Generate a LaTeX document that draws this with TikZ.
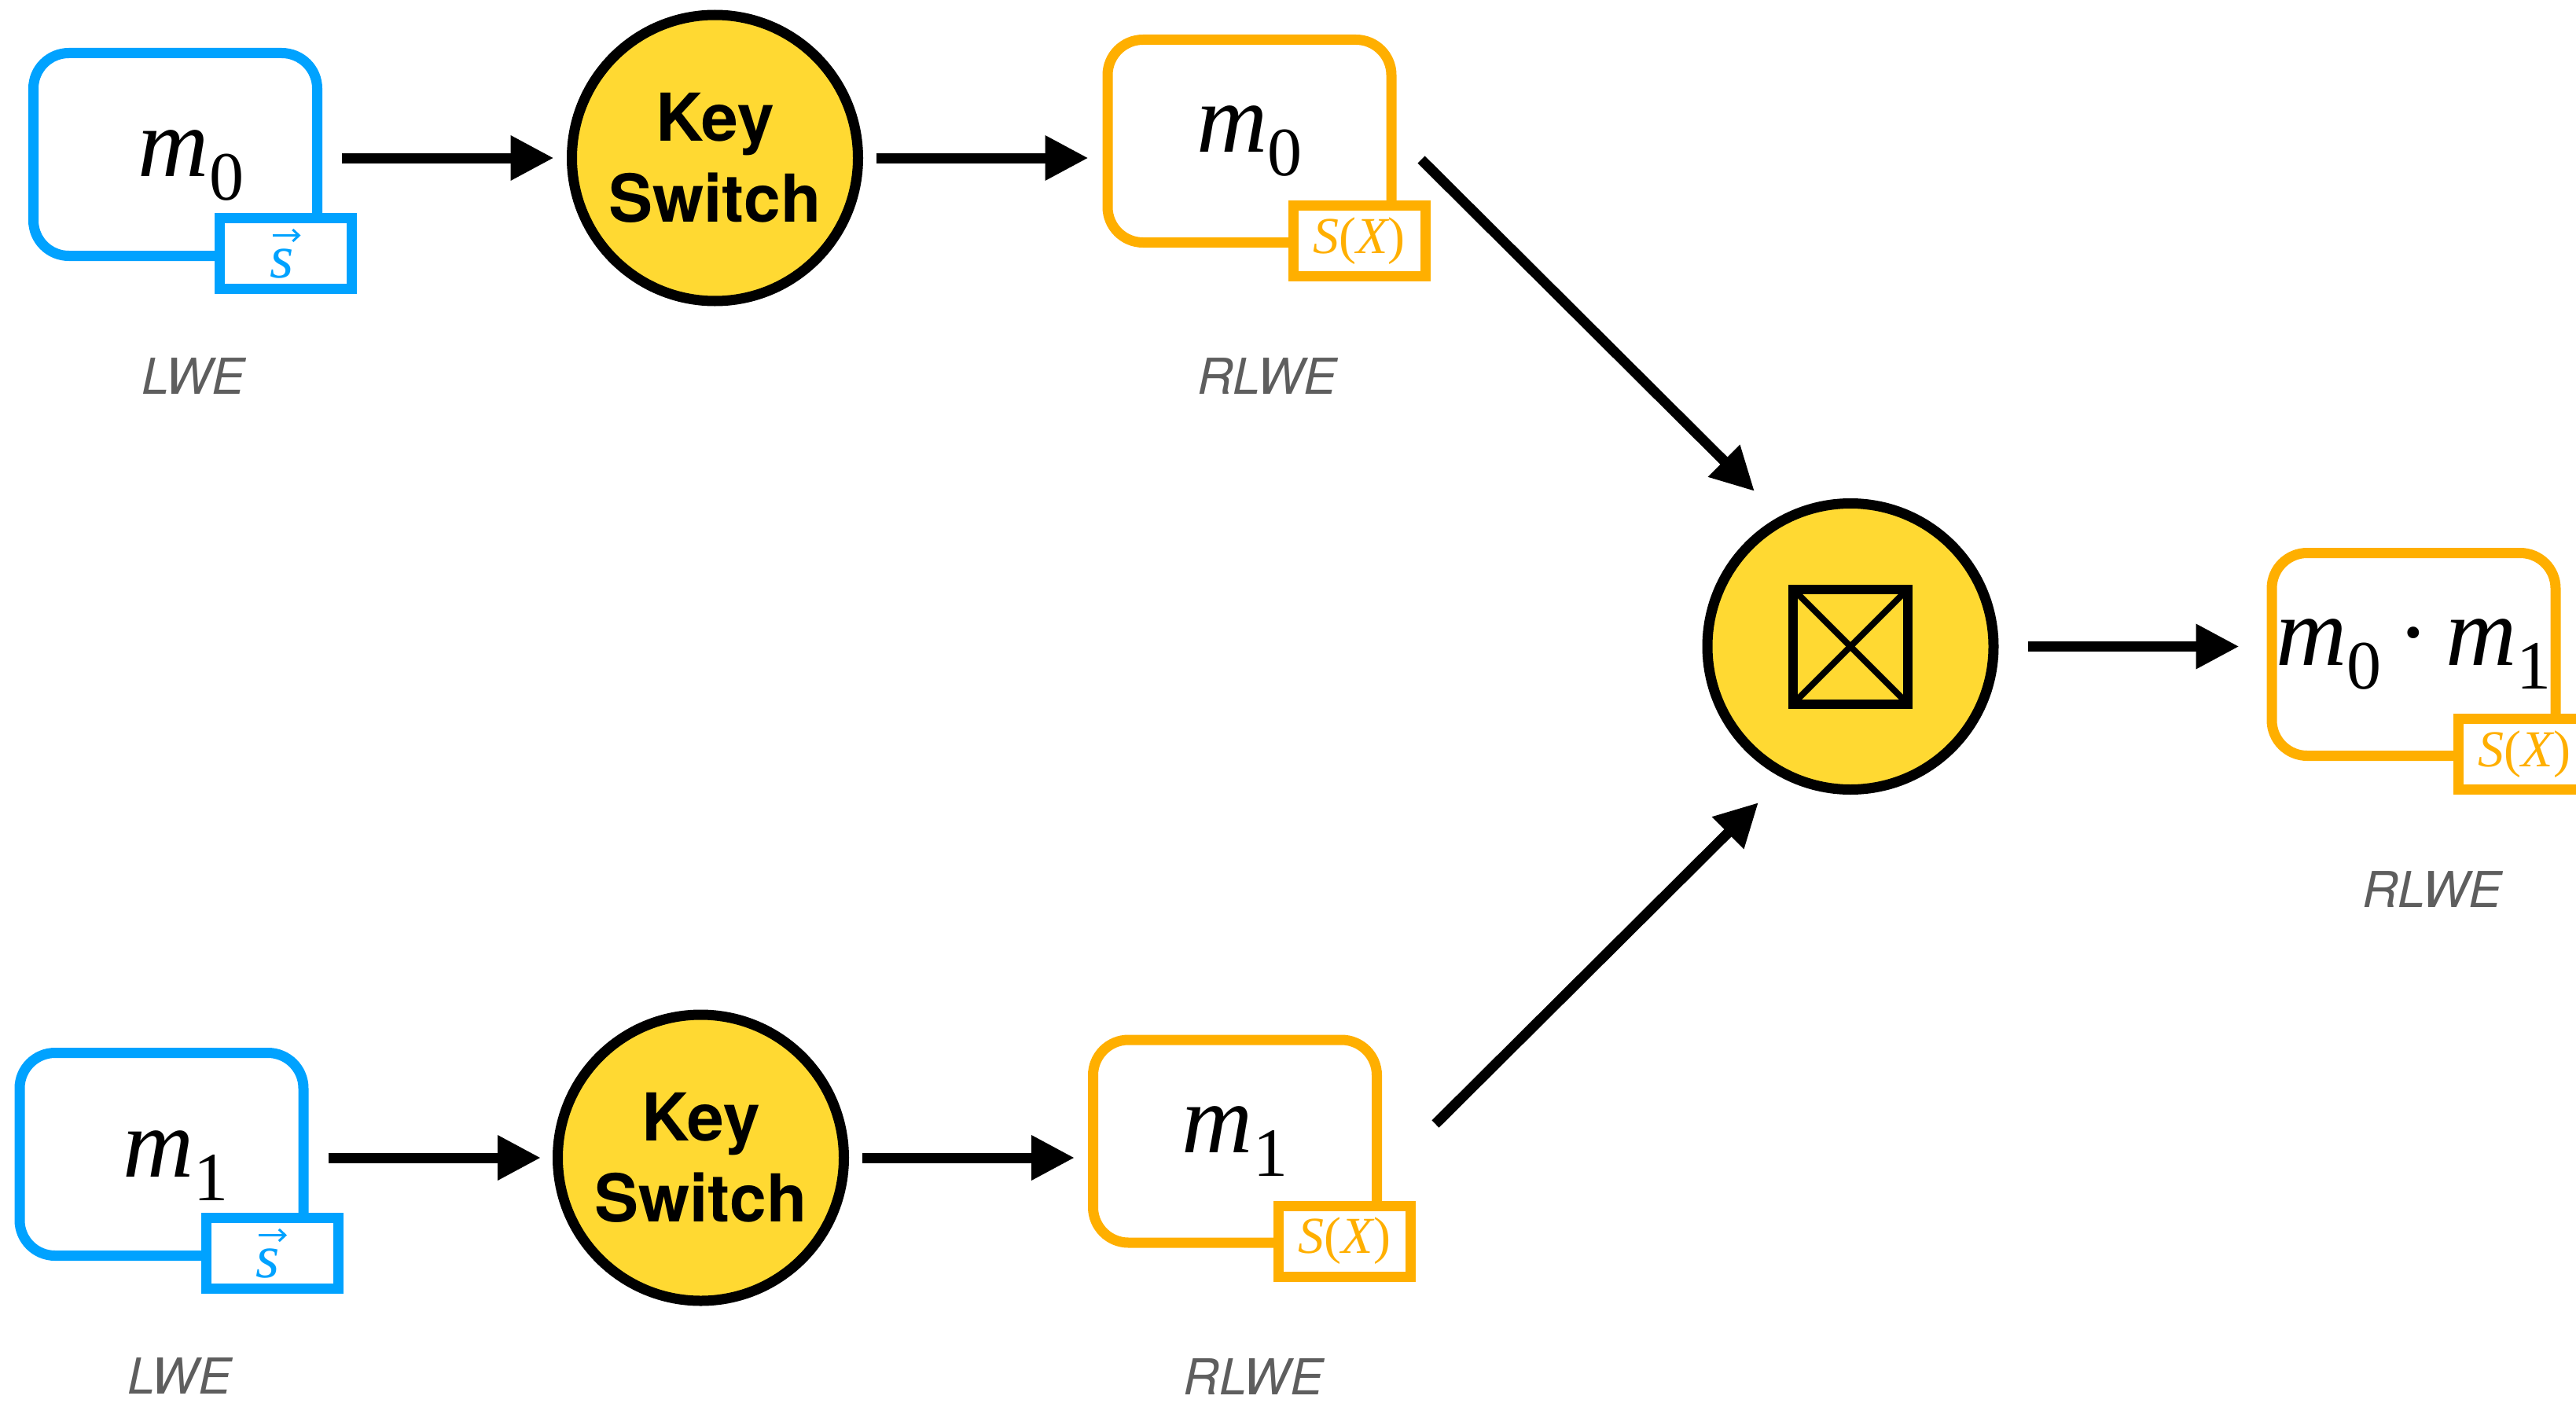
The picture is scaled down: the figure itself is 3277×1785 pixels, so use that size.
\documentclass[tikz,border=0pt]{standalone}
\usepackage{fontspec}
\setmainfont{Liberation Serif}
\newfontfamily\heros{TeX Gyre Heros}
\usetikzlibrary{arrows.meta,calc}

\definecolor{cblue}{HTML}{00A2FF}
\definecolor{corange}{HTML}{FFAF00}
\definecolor{cyellow}{HTML}{FFD932}
\definecolor{cgray}{HTML}{5E5E5E}

% message symbol m_i, set in a Times-like italic with an upright subscript
\newcommand\msym[2]{{\fontsize{125}{125}\selectfont\itshape #1}\raisebox{-30pt}{\fontsize{88}{88}\selectfont #2}}
% polynomial secret key S(X)
\newcommand\polykey{\fontsize{66}{66}\selectfont\itshape S\upshape(\itshape X\upshape)}

\begin{document}
\begin{tikzpicture}[x=1pt,y=-1pt,
  ct/.style={draw, line width=13pt, rounded corners=45pt, minimum width=361pt,
    minimum height=258pt, inner sep=0pt, outer sep=0pt, fill=white},
  keytag/.style={draw, line width=13pt, fill=white, minimum width=168pt,
    minimum height=90pt, inner sep=0pt, outer sep=0pt},
  opnode/.style={circle, draw, line width=13pt, fill=cyellow, minimum size=364pt,
    inner sep=0pt, outer sep=0pt},
  ksfont/.style={font=\heros\bfseries\fontsize{84}{103}\selectfont, align=center},
  kind/.style={text=cgray, font=\heros\itshape\fontsize{63}{63}\selectfont,
    anchor=base, inner sep=0pt},
  msg/.style={inner sep=0pt},
  svec/.style={inner sep=0pt, text=cblue, font=\fontsize{78}{78}\selectfont\itshape},
  vecarrow/.style={draw=cblue, line width=3pt, -{Straight Barb[length=8pt,width=15pt]}},
  arr/.style={line width=13pt, -{Triangle[length=55pt,width=54pt]}}
]
\useasboundingbox (0,0) rectangle (3277,1785);
\clip (0,0) rectangle (3277,1785);

% ---- upper branch: LWE -> Key Switch -> RLWE
\node[ct, draw=cblue] (lwe0) at (223,196.5) {};
\node[msg] (lwe0m) at ($(lwe0)+(20,14)$) {\msym{m}{0}};
\node[keytag, draw=cblue] (lwe0k) at ($(lwe0)+(140.5,126)$) {};
\node[svec] (lwe0s) at ($(lwe0k)+(-5,13)$) {s};
\draw[vecarrow] ($(lwe0s)+(-12,-36)$) -- ($(lwe0s)+(24,-36)$);
\node[kind] (lwe0l) at ($(lwe0)+(23,305)$) {LWE};

\node[opnode, ksfont] (ks0) at (909.5,201) {Key\\Switch};

\node[ct, draw=corange] (rl0) at (1589.5,179.5) {};
\node[msg] (rl0m) at (rl0) {\msym{m}{0}};
\node[keytag, draw=corange, text=corange] (rl0k) at ($(rl0)+(139.5,127)$) {\polykey};
\node[kind] (rl0l) at ($(rl0)+(22.5,322)$) {RLWE};

% ---- lower branch
\node[ct, draw=cblue] (lwe1) at (205.5,1468.5) {};
\node[msg] (lwe1m) at ($(lwe1)+(18,15)$) {\msym{m}{1}};
\node[keytag, draw=cblue] (lwe1k) at ($(lwe1)+(140.5,126)$) {};
\node[svec] (lwe1s) at ($(lwe1k)+(-5,13)$) {s};
\draw[vecarrow] ($(lwe1s)+(-12,-36)$) -- ($(lwe1s)+(24,-36)$);
\node[kind] (lwe1l) at ($(lwe1)+(23,305)$) {LWE};

\node[opnode, ksfont] (ks1) at (891.5,1473) {Key\\Switch};

\node[ct, draw=corange] (rl1) at (1571,1452) {};
\node[msg] (rl1m) at (rl1) {\msym{m}{1}};
\node[keytag, draw=corange, text=corange] (rl1k) at ($(rl1)+(139.5,127)$) {\polykey};
\node[kind] (rl1l) at ($(rl1)+(23.5,322)$) {RLWE};

% ---- multiplication
\node[opnode] (mul) at (2354,822.5) {};
\node[draw, line width=12pt, minimum size=146pt, inner sep=0pt, outer sep=0pt] (mulbox) at (mul) {};
\draw[line width=8pt] (mulbox.north west) -- (mulbox.south east)
                      (mulbox.north east) -- (mulbox.south west);

% ---- product ciphertext
\node[ct, draw=corange] (res) at (3070.5,832.5) {};
\node[msg] (resm) at (res) {\msym{m}{0}\hspace{20pt}{\fontsize{125}{125}\selectfont ·}\hspace{20pt}\msym{m}{1}};
\node[keytag, draw=corange, text=corange] (resk) at ($(res)+(141,127)$) {\polykey};
\node[kind] (resl) at ($(res)+(23.5,322)$) {RLWE};

% ---- connectors
\draw[arr, shorten <=31.5pt, shorten >=23pt] (lwe0.east |- ks0) -- (ks0.west);
\draw[arr, shorten <=23pt, shorten >=24.5pt] (ks0.east) -- (ks0.east -| rl0.west);
\draw[arr, shorten <=31.5pt, shorten >=21.5pt] (lwe1.east |- ks1) -- (ks1.west);
\draw[arr, shorten <=23.5pt, shorten >=23.5pt] (ks1.east) -- (ks1.east -| rl1.west);

\coordinate (d0s) at ($(rl0)+(218.5,23.5)$);
\coordinate (d0e) at ($(mul)+(-122,-197.5)$);
\coordinate (d1s) at ($(rl1)+(255,-22)$);
\coordinate (d1e) at ($(mul)+(-117,198.5)$);
\draw[arr] (d0s) -- (d0e);
\draw[arr] (d1s) -- (d1e);

\draw[arr, shorten <=44pt, shorten >=41.5pt] (mul.east) -- (mul.east -| res.west);
\end{tikzpicture}
\end{document}
